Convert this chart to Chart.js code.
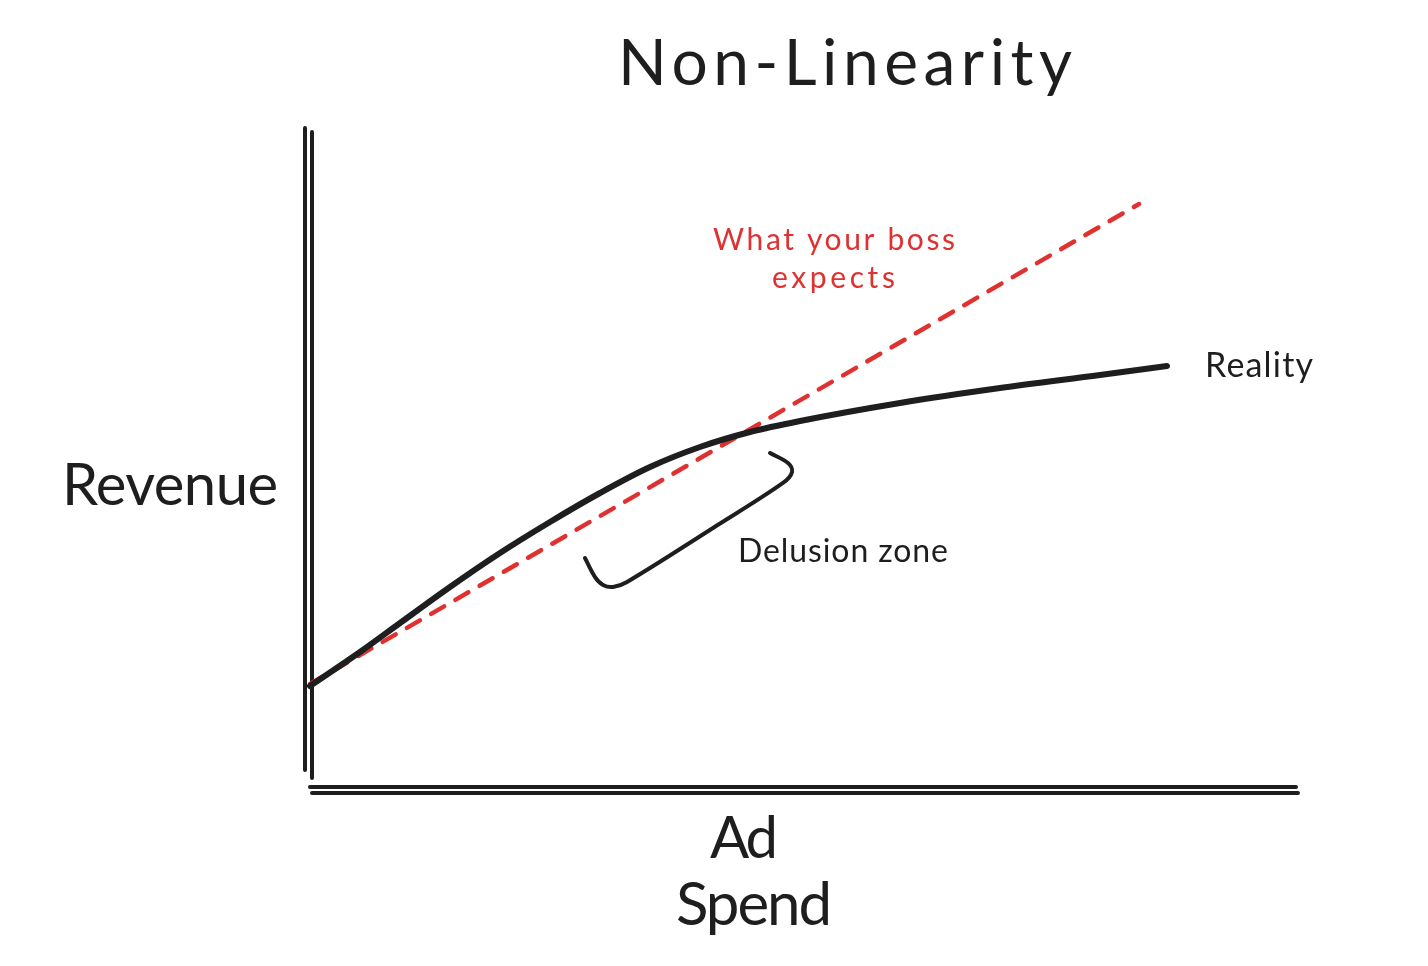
<!DOCTYPE html>
<html>
<head>
<meta charset="utf-8">
<script src="https://cdn.jsdelivr.net/npm/chart.js@4/dist/chart.umd.min.js"></script>
<style>
  html, body { margin: 0; padding: 0; background: #ffffff; }
  #wrap { width: 1428px; height: 966px; }
</style>
</head>
<body>
<div id="wrap"><canvas id="c" width="1428" height="966"></canvas></div>
<script>
// ---- data (x = ad spend, y = revenue, arbitrary 0..100 units) ----
const realitySpend   = [0, 5.06, 9.11, 14.17, 19.23, 24.29, 29.35, 34.41, 39.47, 44.53, 49.60, 59.72, 69.84, 79.96, 86.74];
const realityRevenue = [15.76, 20.91, 25.30, 30.76, 35.91, 40.61, 45.0, 48.94, 51.97, 54.24, 55.91, 58.64, 60.91, 62.88, 64.24];

const expectSpend    = [0, 83.91];
const expectRevenue  = [16.06, 88.79];

const bracketSpend   = [27.83, 28.85, 29.66, 30.67, 32.09, 40.79, 47.87, 48.79, 48.38, 46.56];
const bracketRevenue = [35.15, 32.27, 31.06, 30.76, 31.52, 39.70, 46.52, 48.18, 49.55, 51.06];

const titleText   = 'Non-Linearity';
const yAxisLabel  = 'Revenue';
const xAxisLabel  = ['Ad', 'Spend'];
const realityLabel = 'Reality';
const expectLabel  = ['What your boss', 'expects'];
const zoneLabel    = 'Delusion zone';

const INK = '#1e1e1e';
const RED = '#e03131';
const FONT = 'Lato, "Open Sans", sans-serif';

const toPts = (xs, ys) => xs.map((x, i) => ({ x, y: ys[i] }));

// text placements: [text, left, baseline, size, targetWidth, color, weight]
const labels = [
  [titleText, 618, 85, 64, 454, INK, 'normal'],
  [yAxisLabel, 62, 505, 58, 216, INK, 'normal'],
  [xAxisLabel[0], 710, 858, 58, 68, INK, 'normal'],
  [xAxisLabel[1], 676, 925, 60, 156, INK, 'normal'],
  [realityLabel, 1205, 377, 34, 108, INK, 'normal'],
  [expectLabel[0], 713, 250, 30, 242, RED, 'normal'],
  [expectLabel[1], 772, 288, 30, 123, RED, 'normal'],
  [zoneLabel, 738, 562, 32, 210, INK, 'normal']
];

const decor = {
  id: 'decor',
  beforeDatasetsDraw(chart) {
    const { ctx } = chart;
    const xs = chart.scales.x, ys = chart.scales.y;
    const x0 = xs.getPixelForValue(0), x1 = xs.getPixelForValue(100);
    const y0 = ys.getPixelForValue(0), y1 = ys.getPixelForValue(100);
    ctx.save();
    ctx.strokeStyle = INK;
    ctx.lineCap = 'round';
    ctx.lineWidth = 4;
    // double vertical axis
    ctx.beginPath();
    ctx.moveTo(x0 - 5, y1 - 2); ctx.lineTo(x0 - 5, y0 - 20);
    ctx.moveTo(x0 + 2, y1 + 2); ctx.lineTo(x0 + 2, y0 - 12);
    // double horizontal axis
    ctx.moveTo(x0, y0 - 3); ctx.lineTo(x1 - 2, y0 - 3);
    ctx.moveTo(x0 + 2, y0 + 3); ctx.lineTo(x1, y0 + 3);
    ctx.stroke();
    ctx.restore();
  },
  afterDraw(chart) {
    const { ctx } = chart;
    ctx.save();
    ctx.textBaseline = 'alphabetic';
    ctx.textAlign = 'left';
    labels.forEach(([t, x, y, size, w, col, weight]) => {
      ctx.font = `${weight} ${size}px ${FONT}`;
      ctx.letterSpacing = '0px';
      const natural = ctx.measureText(t).width;
      const n = Math.max(t.length - 1, 1);
      const ls = (w - natural) / n;
      ctx.letterSpacing = ls.toFixed(2) + 'px';
      ctx.fillStyle = col;
      ctx.fillText(t, x, y);
    });
    ctx.restore();
  }
};

new Chart(document.getElementById('c'), {
  type: 'line',
  data: {
    datasets: [
      {
        label: 'What your boss expects',
        data: toPts(expectSpend, expectRevenue),
        borderColor: RED,
        borderWidth: 4.5,
        borderDash: [15, 13],
        borderCapStyle: 'round',
        pointRadius: 0,
        tension: 0,
        order: 2
      },
      {
        label: 'Reality',
        data: toPts(realitySpend, realityRevenue),
        borderColor: INK,
        borderWidth: 6,
        borderCapStyle: 'round',
        pointRadius: 0,
        cubicInterpolationMode: 'monotone',
        order: 1
      },
      {
        label: 'Delusion zone',
        data: toPts(bracketSpend, bracketRevenue),
        borderColor: INK,
        borderWidth: 4,
        borderCapStyle: 'round',
        borderJoinStyle: 'round',
        pointRadius: 0,
        tension: 0.35,
        order: 0
      }
    ]
  },
  options: {
    responsive: false,
    animation: false,
    clip: false,
    layout: { padding: { left: 310, right: 130, top: 130, bottom: 176 } },
    plugins: {
      legend: { display: false },
      tooltip: { enabled: false },
      title: { display: false }
    },
    scales: {
      x: { type: 'linear', min: 0, max: 100, display: false },
      y: { type: 'linear', min: 0, max: 100, display: false }
    }
  },
  plugins: [decor]
});
</script>
</body>
</html>
